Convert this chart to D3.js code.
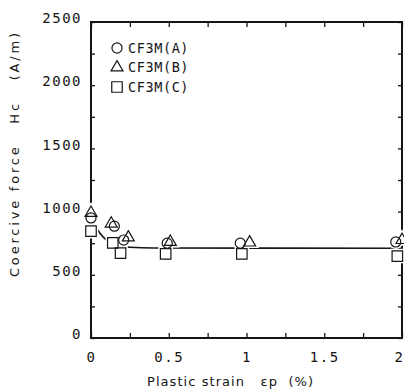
<!DOCTYPE html>
<html>
<head>
<meta charset="utf-8">
<script src="https://cdn.jsdelivr.net/npm/d3@7"></script>
<style>
  html, body { margin: 0; padding: 0; background: #fff; }
  svg text { fill: #151515; }
  .tick text { font-family: "DejaVu Sans Mono", monospace; font-size: 14px; letter-spacing: 1.5px; }
  .title { font-family: "DejaVu Sans", sans-serif; font-size: 13px; white-space: pre; }
  .legend text { font-family: "DejaVu Sans Mono", monospace; font-size: 13.5px; letter-spacing: 0.6px; }
</style>
</head>
<body>
<div id="chart"></div>
<script>
  "use strict";

  // Series (strain in %, Hc in A/m)
  var seriesNames = ["CF3M(A)", "CF3M(B)", "CF3M(C)"];
  var strainA = [0, 0.15, 0.21, 0.49, 0.96, 1.96];
  var hcA = [950, 885, 775, 750, 750, 760];
  var strainB = [0, 0.13, 0.24, 0.51, 1.02, 2.0];
  var hcB = [990, 905, 795, 760, 755, 775];
  var strainC = [0, 0.14, 0.19, 0.48, 0.97, 1.97];
  var hcC = [845, 752, 672, 665, 665, 648];

  // Drawn trend curve
  var fitStrain = [0, 0.03, 0.06, 0.1, 0.15, 0.25, 0.4, 2.0];
  var fitHc = [945, 880, 825, 775, 740, 718, 712, 710];

  // Tick labels
  var xTicks = [0, 0.25, 0.5, 0.75, 1, 1.25, 1.5, 1.75, 2];
  var xLabels = ["0", "", "0.5", "", "1", "", "1.5", "", "2"];
  var yTicks = [0, 250, 500, 750, 1000, 1250, 1500, 1750, 2000, 2250, 2500];
  var yLabels = ["0", "", "500", "", "1000", "", "1500", "", "2000", "", "2500"];

  var W = 404, H = 391;
  var margin = {top: 22, right: 2, bottom: 53, left: 91};
  var width = W - margin.left - margin.right;
  var height = H - margin.top - margin.bottom;
  var ink = "#151515";

  var svg = d3.select("#chart").append("svg")
    .attr("width", W)
    .attr("height", H);

  var x = d3.scaleLinear().domain([0, 2]).range([0, width]);
  var y = d3.scaleLinear().domain([0, 2500]).range([height, 0]);

  var g = svg.append("g")
    .attr("transform", "translate(" + margin.left + "," + margin.top + ")");

  // Axes (ticks point inward)
  var fmtX = function(d) { return xLabels[xTicks.indexOf(d)]; };
  var fmtY = function(d) { return yLabels[yTicks.indexOf(d)]; };

  var axes = [
    g.append("g").attr("transform", "translate(0," + height + ")")
      .call(d3.axisBottom(x).tickValues(xTicks).tickFormat(fmtX).tickSizeInner(-5).tickSizeOuter(0).tickPadding(14)),
    g.append("g")
      .call(d3.axisTop(x).tickValues(xTicks).tickFormat("").tickSizeInner(-5).tickSizeOuter(0)),
    g.append("g")
      .call(d3.axisLeft(y).tickValues(yTicks).tickFormat(fmtY).tickSizeInner(-4).tickSizeOuter(0).tickPadding(9)),
    g.append("g").attr("transform", "translate(" + width + ",0)")
      .call(d3.axisRight(y).tickValues(yTicks).tickFormat("").tickSizeInner(-4).tickSizeOuter(0))
  ];
  axes.forEach(function(a) {
    a.select(".domain").remove();
    a.selectAll(".tick line").attr("stroke", ink).attr("stroke-width", 1.3);
  });
  axes[2].selectAll(".tick text").attr("dy", "0.05em");
  // the last x label sits at the page edge: keep it inside
  axes[0].selectAll(".tick text")
    .filter(function(d) { return d === 2; })
    .attr("text-anchor", "end")
    .attr("x", 2);

  // Frame
  g.append("rect")
    .attr("width", width)
    .attr("height", height)
    .attr("fill", "none")
    .attr("stroke", ink)
    .attr("stroke-width", 2);

  // Trend curve
  var fit = fitStrain.map(function(s, i) { return [s, fitHc[i]]; });
  g.append("path")
    .datum(fit)
    .attr("fill", "none")
    .attr("stroke", ink)
    .attr("stroke-width", 1.6)
    .attr("d", d3.line()
      .x(function(d) { return x(d[0]); })
      .y(function(d) { return y(d[1]); })
      .curve(d3.curveMonotoneX));

  // Markers
  var shapes = [
    d3.symbol().type(d3.symbolCircle).size(80),
    d3.symbol().type(d3.symbolTriangle).size(62),
    d3.symbol().type(d3.symbolSquare).size(110)
  ];
  var series = [
    {xs: strainA, ys: hcA},
    {xs: strainB, ys: hcB},
    {xs: strainC, ys: hcC}
  ];

  // white halo first so the curve breaks around the markers
  series.forEach(function(s, k) {
    g.selectAll(null)
      .data(s.xs.map(function(v, i) { return [v, s.ys[i]]; }))
      .enter().append("path")
      .attr("d", shapes[k])
      .attr("transform", function(d) { return "translate(" + x(d[0]) + "," + y(d[1]) + ")"; })
      .attr("fill", "#fff")
      .attr("stroke", "#fff")
      .attr("stroke-width", 4);
  });
  series.forEach(function(s, k) {
    g.selectAll(null)
      .data(s.xs.map(function(v, i) { return [v, s.ys[i]]; }))
      .enter().append("path")
      .attr("d", shapes[k])
      .attr("transform", function(d) { return "translate(" + x(d[0]) + "," + y(d[1]) + ")"; })
      .attr("fill", "none")
      .attr("stroke", ink)
      .attr("stroke-width", 1.2);
  });

  // Legend
  var legend = svg.append("g").attr("class", "legend");
  seriesNames.forEach(function(name, k) {
    var ly = 48 + k * 19.5;
    legend.append("path")
      .attr("d", shapes[k])
      .attr("transform", "translate(117," + ly + ")")
      .attr("fill", "none")
      .attr("stroke", ink)
      .attr("stroke-width", 1.2);
    legend.append("text")
      .attr("x", 128)
      .attr("y", ly)
      .attr("dy", "0.36em")
      .text(name);
  });

  // Axis titles
  svg.append("text")
    .attr("class", "title")
    .attr("x", 230)
    .attr("y", 386)
    .attr("text-anchor", "middle")
    .attr("textLength", 166)
    .attr("lengthAdjust", "spacing")
    .text("Plastic strain   \u03b5p  (%)");

  svg.append("text")
    .attr("class", "title")
    .attr("transform", "translate(19,155) rotate(-90)")
    .attr("text-anchor", "middle")
    .attr("textLength", 244)
    .attr("lengthAdjust", "spacing")
    .text("Coercive force   Hc   (A/m)");
</script>
</body>
</html>
